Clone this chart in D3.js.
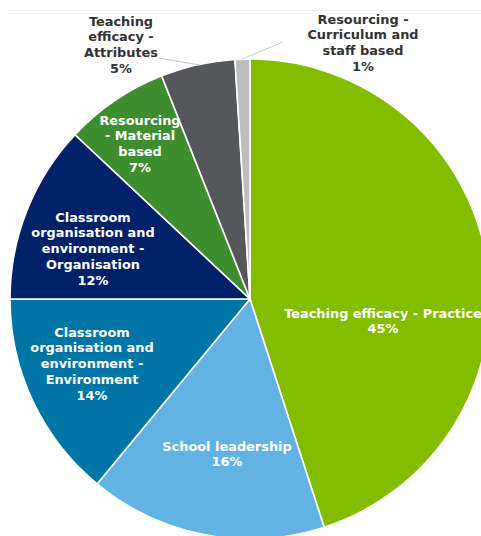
<!DOCTYPE html>
<html>
<head>
<meta charset="utf-8">
<script src="https://cdn.jsdelivr.net/npm/d3@7/dist/d3.min.js"></script>
<style>
  html, body { margin: 0; padding: 0; background: #fff; }
  svg { display: block; }
  text { font-family: "DejaVu Sans", Verdana, sans-serif; font-weight: bold; font-size: 12.9px; }
</style>
</head>
<body>
<svg id="chart" width="481" height="536"></svg>
<script>
// Share of responses by theme (percent)
const categories = [
  "Teaching efficacy - Practice",
  "School leadership",
  "Classroom organisation and environment - Environment",
  "Classroom organisation and environment - Organisation",
  "Resourcing - Material based",
  "Teaching efficacy - Attributes",
  "Resourcing - Curriculum and staff based"
];
const values = [45, 16, 14, 12, 7, 5, 1];
// Wrapped label lines for each slice
const labelLines = [
  ["Teaching efficacy - Practice"],
  ["School leadership"],
  ["Classroom", "organisation and", "environment -", "Environment"],
  ["Classroom", "organisation and", "environment -", "Organisation"],
  ["Resourcing", "- Material", "based"],
  ["Teaching", "efficacy -", "Attributes"],
  ["Resourcing -", "Curriculum and", "staff based"]
];
const colors = ["#84bc00", "#62b3e4", "#0075a6", "#012169", "#3e8d2f", "#56575a", "#bcbdbd"];

const svg = d3.select("#chart");
const cx = 250, cy = 299, radius = 240;

// faint frame line along the top
svg.append("line")
  .attr("x1", 7).attr("x2", 481).attr("y1", 10.5).attr("y2", 10.5)
  .attr("stroke", "#f0f0f0").attr("stroke-width", 1);

const pie = d3.pie().sort(null).value(d => d)(values);
const arc = d3.arc().innerRadius(0).outerRadius(radius);

const g = svg.append("g").attr("transform", `translate(${cx},${cy})`);

g.selectAll("path.slice")
  .data(pie)
  .join("path")
  .attr("class", "slice")
  .attr("d", arc)
  .attr("fill", (d, i) => colors[i])
  .attr("stroke", "#ffffff")
  .attr("stroke-width", 1.6)
  .attr("stroke-linejoin", "round");

// Label placement (first line centre, relative to pie centre); thin slices get
// an outside label joined to the rim by a leader line
const labelSpec = [
  { pos: [133, 14], inside: true },
  { pos: [-23, 147], inside: true },
  { pos: [-158, 33], inside: true },
  { pos: [-157, -82], inside: true },
  { pos: [-110, -179], inside: true },
  { pos: [-129, -278], inside: false, line: [[-92, -241], [-50, -234]] },
  { pos: [113, -280], inside: false, line: [[-8, -240], [33, -257]] }
];

const lineH = 15.75;

pie.forEach((d, i) => {
  const spec = labelSpec[i];
  const lines = labelLines[i].concat([values[i] + "%"]);
  const [x, y] = spec.pos;
  if (!spec.inside) {
    g.append("line")
      .attr("x1", spec.line[0][0]).attr("y1", spec.line[0][1])
      .attr("x2", spec.line[1][0]).attr("y2", spec.line[1][1])
      .attr("stroke", "#c8c8c8").attr("stroke-width", 1);
  }
  const t = g.append("text")
    .attr("text-anchor", "middle")
    .attr("fill", spec.inside ? "#ffffff" : "#333333");
  lines.forEach((ln, k) => {
    t.append("tspan")
      .attr("x", x)
      .attr("y", y + k * lineH)
      .attr("dy", "0.35em")
      .text(ln);
  });
});
</script>
</body>
</html>
